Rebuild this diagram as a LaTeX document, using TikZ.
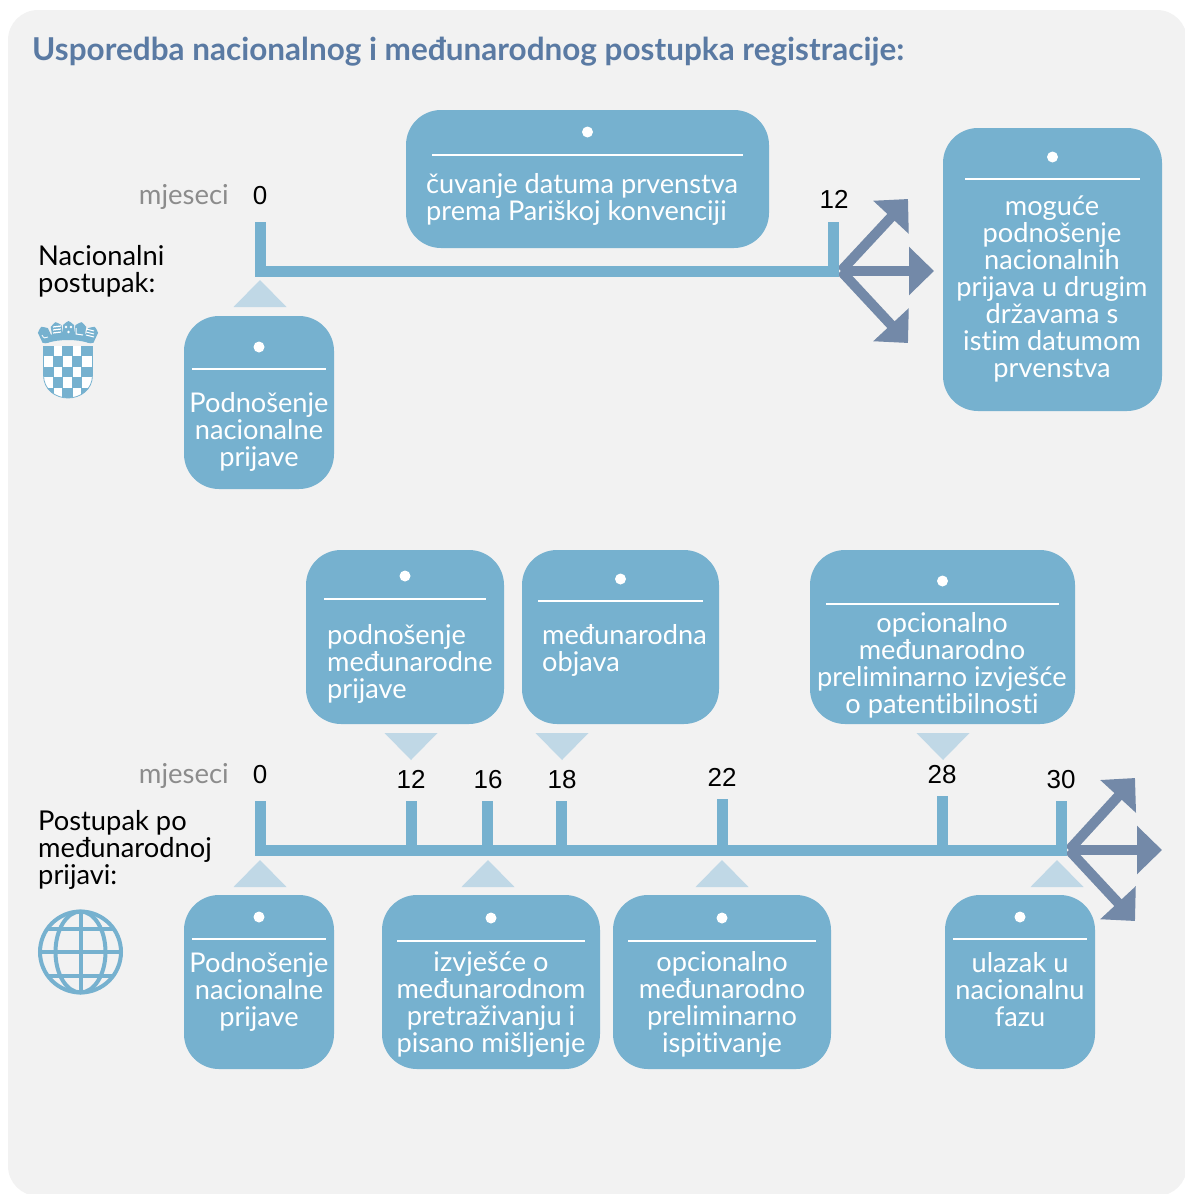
\documentclass[tikz,border=0pt]{standalone}
\usepackage{fontspec}
\setmainfont{Lato}[Ligatures=NoCommon]
\newfontfamily\numfont{Liberation Sans}
\usetikzlibrary{arrows.meta}
\definecolor{panel}{HTML}{F2F2F2}
\definecolor{cardblue}{HTML}{76B1CF}
\definecolor{pale}{HTML}{C0D8E6}
\definecolor{slate}{HTML}{7389A8}
\definecolor{titleblue}{HTML}{5A7AA3}
\definecolor{monthgray}{HTML}{8C8C8C}

\begin{document}
\begin{tikzpicture}[x=1pt,y=-1pt,
    card/.style={fill=cardblue,rounded corners=35pt,inner sep=0pt},
    card text/.style={white,font=\fontsize{27.2}{27}\selectfont,inner sep=0pt,yshift=-3.5pt,
      execute at begin node=\strut,execute at end node=\strut},
    dot/.style={circle,fill=white,minimum size=11pt,inner sep=0pt},
    rule line/.style={draw=white,line width=2.5pt},
    bar/.style={draw=cardblue,line width=11pt},
    branch/.style={draw=slate,line width=10pt,-{Triangle[length=25pt,width=47pt]}},
    pointer/.style={fill=pale},
    month/.style={monthgray,font=\fontsize{27.5}{27}\selectfont,inner sep=0pt,text height=19pt,text depth=6pt},
    tick label/.style={black,font=\numfont\fontsize{26}{27}\selectfont,inner sep=0pt},
    side label/.style={black,font=\fontsize{27.3}{27}\selectfont,inner sep=0pt,align=left,anchor=west,yshift=-3.5pt,
      execute at begin node=\strut,execute at end node=\strut}]

  \useasboundingbox (0,0) rectangle (1185,1194);
  \clip (0,0) rectangle (1185,1194);
  \fill[panel,rounded corners=30pt] (8,10) rectangle (1187,1196);

  \node[anchor=base west,inner sep=0pt,titleblue,font=\fontsize{31.5}{33}\selectfont\bfseries] (title) at (32,60)
    {Usporedba nacionalnog i međunarodnog postupka registracije:};

  % cards: name / left / top / right / bottom / dot y / rule y / rule margin
  \foreach \n/\l/\t/\r/\b/\dy/\ry/\m in {
      keep/406/110/769/248/132/155/26, later/943/128/1162/411/157/179/22,
      natl/184/316/334/489/347/369/8, intl/306/550/504/724/576/599/18,
      publ/522/550/719/724/579/601/16, opt/810/550/1075/724/581/604/16,
      filed/184/895/334/1069/917/939/8, search/382/895/600/1069/918/941/15,
      exam/613/895/831/1069/918/941/15, entry/945/895/1095/1069/917/939/8}{
    \fill[card] (\l,\t) rectangle (\r,\b);
    \node[dot] (\n dot) at ({(\l+\r)/2},\dy) {};
    \draw[rule line] ({\l+\m},\ry) -- ({\r-\m},\ry);
  }

  % texts in the cards
  \node[card text,align=left,anchor=west] (keep text) at (426,198) {čuvanje datuma prvenstva\\prema Pariškoj konvenciji};
  \node[card text,align=center] (later text) at (1052,287) {moguće\\podnošenje\\nacionalnih\\prijava u drugim\\državama s\\istim datumom\\prvenstva};
  \node[card text,align=center] (natl text) at (259,430) {Podnošenje\\nacionalne\\prijave};
  \node[card text,align=left,anchor=west] (intl text) at (327,662) {podnošenje\\međunarodne\\prijave};
  \node[card text,align=left,anchor=west] (publ text) at (542,649) {međunarodna\\objava};
  \node[card text,align=center] (opt text) at (942,664) {opcionalno\\međunarodno\\preliminarno izvješće\\o patentibilnosti};
  \node[card text,align=center] (filed text) at (259,990) {Podnošenje\\nacionalne\\prijave};
  \node[card text,align=center] (search text) at (491,1003) {izvješće o\\međunarodnom\\pretraživanju i\\pisano mišljenje};
  \node[card text,align=center] (exam text) at (722,1003) {opcionalno\\međunarodno\\preliminarno\\ispitivanje};
  \node[card text,align=center] (entry text) at (1020,990) {ulazak u\\nacionalnu\\fazu};

  % side labels
  \node[side label] (natl label) at (38,269) {Nacionalni\\postupak:};
  \node[side label] (intl label) at (38,848) {Postupak po\\međunarodnoj\\prijavi:};

  % month labels
  \node[month,anchor=east] (natl months) at (229,198) {mjeseci};
  \node[month,anchor=east] (intl months) at (229,777) {mjeseci};
  \foreach \n/\x/\y/\txt in {a0/260/195.5/0,a12/834/199.5/12,b0/260/774.5/0,b12/411/779.5/12,b16/488/779.5/16,
      b18/562/779.5/18,b22/722/777.5/22,b28/942/774.5/28,b30/1061/779.5/30}
    \node[tick label] (\n) at (\x,\y) {\txt};

  % national timeline
  \coordinate (a start) at (255,271);
  \coordinate (a end) at (839,271);
  \coordinate (a fork) at (841,271);
  \coordinate (a up) at (908,199);
  \coordinate (a right) at (934,271);
  \coordinate (a down) at (908,343);
  \foreach \e in {a up,a right,a down}
    \draw[branch] (a fork) -- (\e);
  \draw[bar] (a start) -- (a end);
  \draw[bar] (260.5,222) -- (260.5,271);
  \draw[bar] (833.5,222) -- (833.5,271);

  % international timeline
  \coordinate (b start) at (255,850.5);
  \coordinate (b end) at (1067,850.5);
  \coordinate (b fork) at (1069,850);
  \coordinate (b up) at (1135,778);
  \coordinate (b right) at (1162,850);
  \coordinate (b down) at (1135,921);
  \foreach \e in {b up,b right,b down}
    \draw[branch] (b fork) -- (\e);
  \draw[bar] (b start) -- (b end);
  \foreach \x/\y in {260.5/801,411/801,487.5/801,561.5/801,722/799,942.5/796,1061.5/801}
    \draw[bar] (\x,\y) -- (\x,850.5);

  % pointers
  \foreach \x/\y in {260/307,260/887,488/887,722/887,1057/887}
    \fill[pointer] (\x-26.5,\y) -- (\x,\y-27) -- (\x+26.5,\y) -- cycle;
  \foreach \x in {411,562,943}
    \fill[pointer] (\x-26.5,733) -- (\x,760) -- (\x+26.5,733) -- cycle;

  % globe
  \begin{scope}[draw=cardblue,line width=4pt]
    \draw (80.5,952) circle (40.5);
    \draw (80.5,952) ellipse (25 and 40.5);
    \draw (80.5,911.5) -- (80.5,992.5);
    \draw (40,952) -- (121,952);
    \draw (47,929) -- (114,929);
    \draw (47,975.5) -- (114,975.5);
  \end{scope}

  % coat of arms
  \begin{scope}
    \clip (43.5,346) -- (92.5,346) -- (92.5,375) .. controls (92.5,390) and (80,398) .. (68,398) .. controls (56,398) and (43.5,390) .. (43.5,375) -- cycle;
    \fill[white] (43,346) rectangle (93,399);
    \foreach \i in {0,...,4}
      \foreach \j in {0,...,4}{
        \pgfmathparse{int(mod(\i+\j,2))}
        \ifnum\pgfmathresult=0
          \fill[cardblue] ({44.5+9.4*\i-1},{346+10.4*\j}) rectangle ({44.5+9.4*(\i+1)},{346+10.4*(\j+1)});
        \fi
      }
  \end{scope}
  \draw[cardblue,line width=.8pt] (43.5,346) -- (43.5,375) .. controls (43.5,390) and (56,398) .. (68,398) .. controls (80,398) and (92.5,390) .. (92.5,375) -- (92.5,346);
  \foreach \x/\y/\a in {45/335/25,57/331/10,68.5/330/0,80/331/-10,91/335/-25}
    \fill[cardblue,shift={(\x,\y)},rotate=\a] (-5.5,-5) -- (-2.5,-7.5) -- (0,-9) -- (2.5,-7.5) -- (5.5,-5) -- (5.5,6) .. controls (3,9) and (-3,9) .. (-5.5,6) -- cycle;
  \fill[cardblue] (42,338) .. controls (55,331) and (81,331) .. (94,338) -- (89,343) .. controls (77,339) and (59,339) .. (47,343) -- cycle;
  % charges on the crown
  \draw[white,line width=.8pt] (42,335) .. controls (43,338) and (46,339) .. (48,337);
  \foreach \y in {327,330,333}{
    \draw[white,line width=1.2pt] (53,\y) -- (61,{\y-1});
    \draw[white,line width=1pt] (86,{\y+2}) -- (94,{\y+4});
  }
  \foreach \x/\y in {66/327,71/327,68.5/332}
    \fill[white] (\x,\y) circle (1.3);
  \draw[white,line width=1pt] (76,328) -- (76,334) -- (83,335);
\end{tikzpicture}
\end{document}
